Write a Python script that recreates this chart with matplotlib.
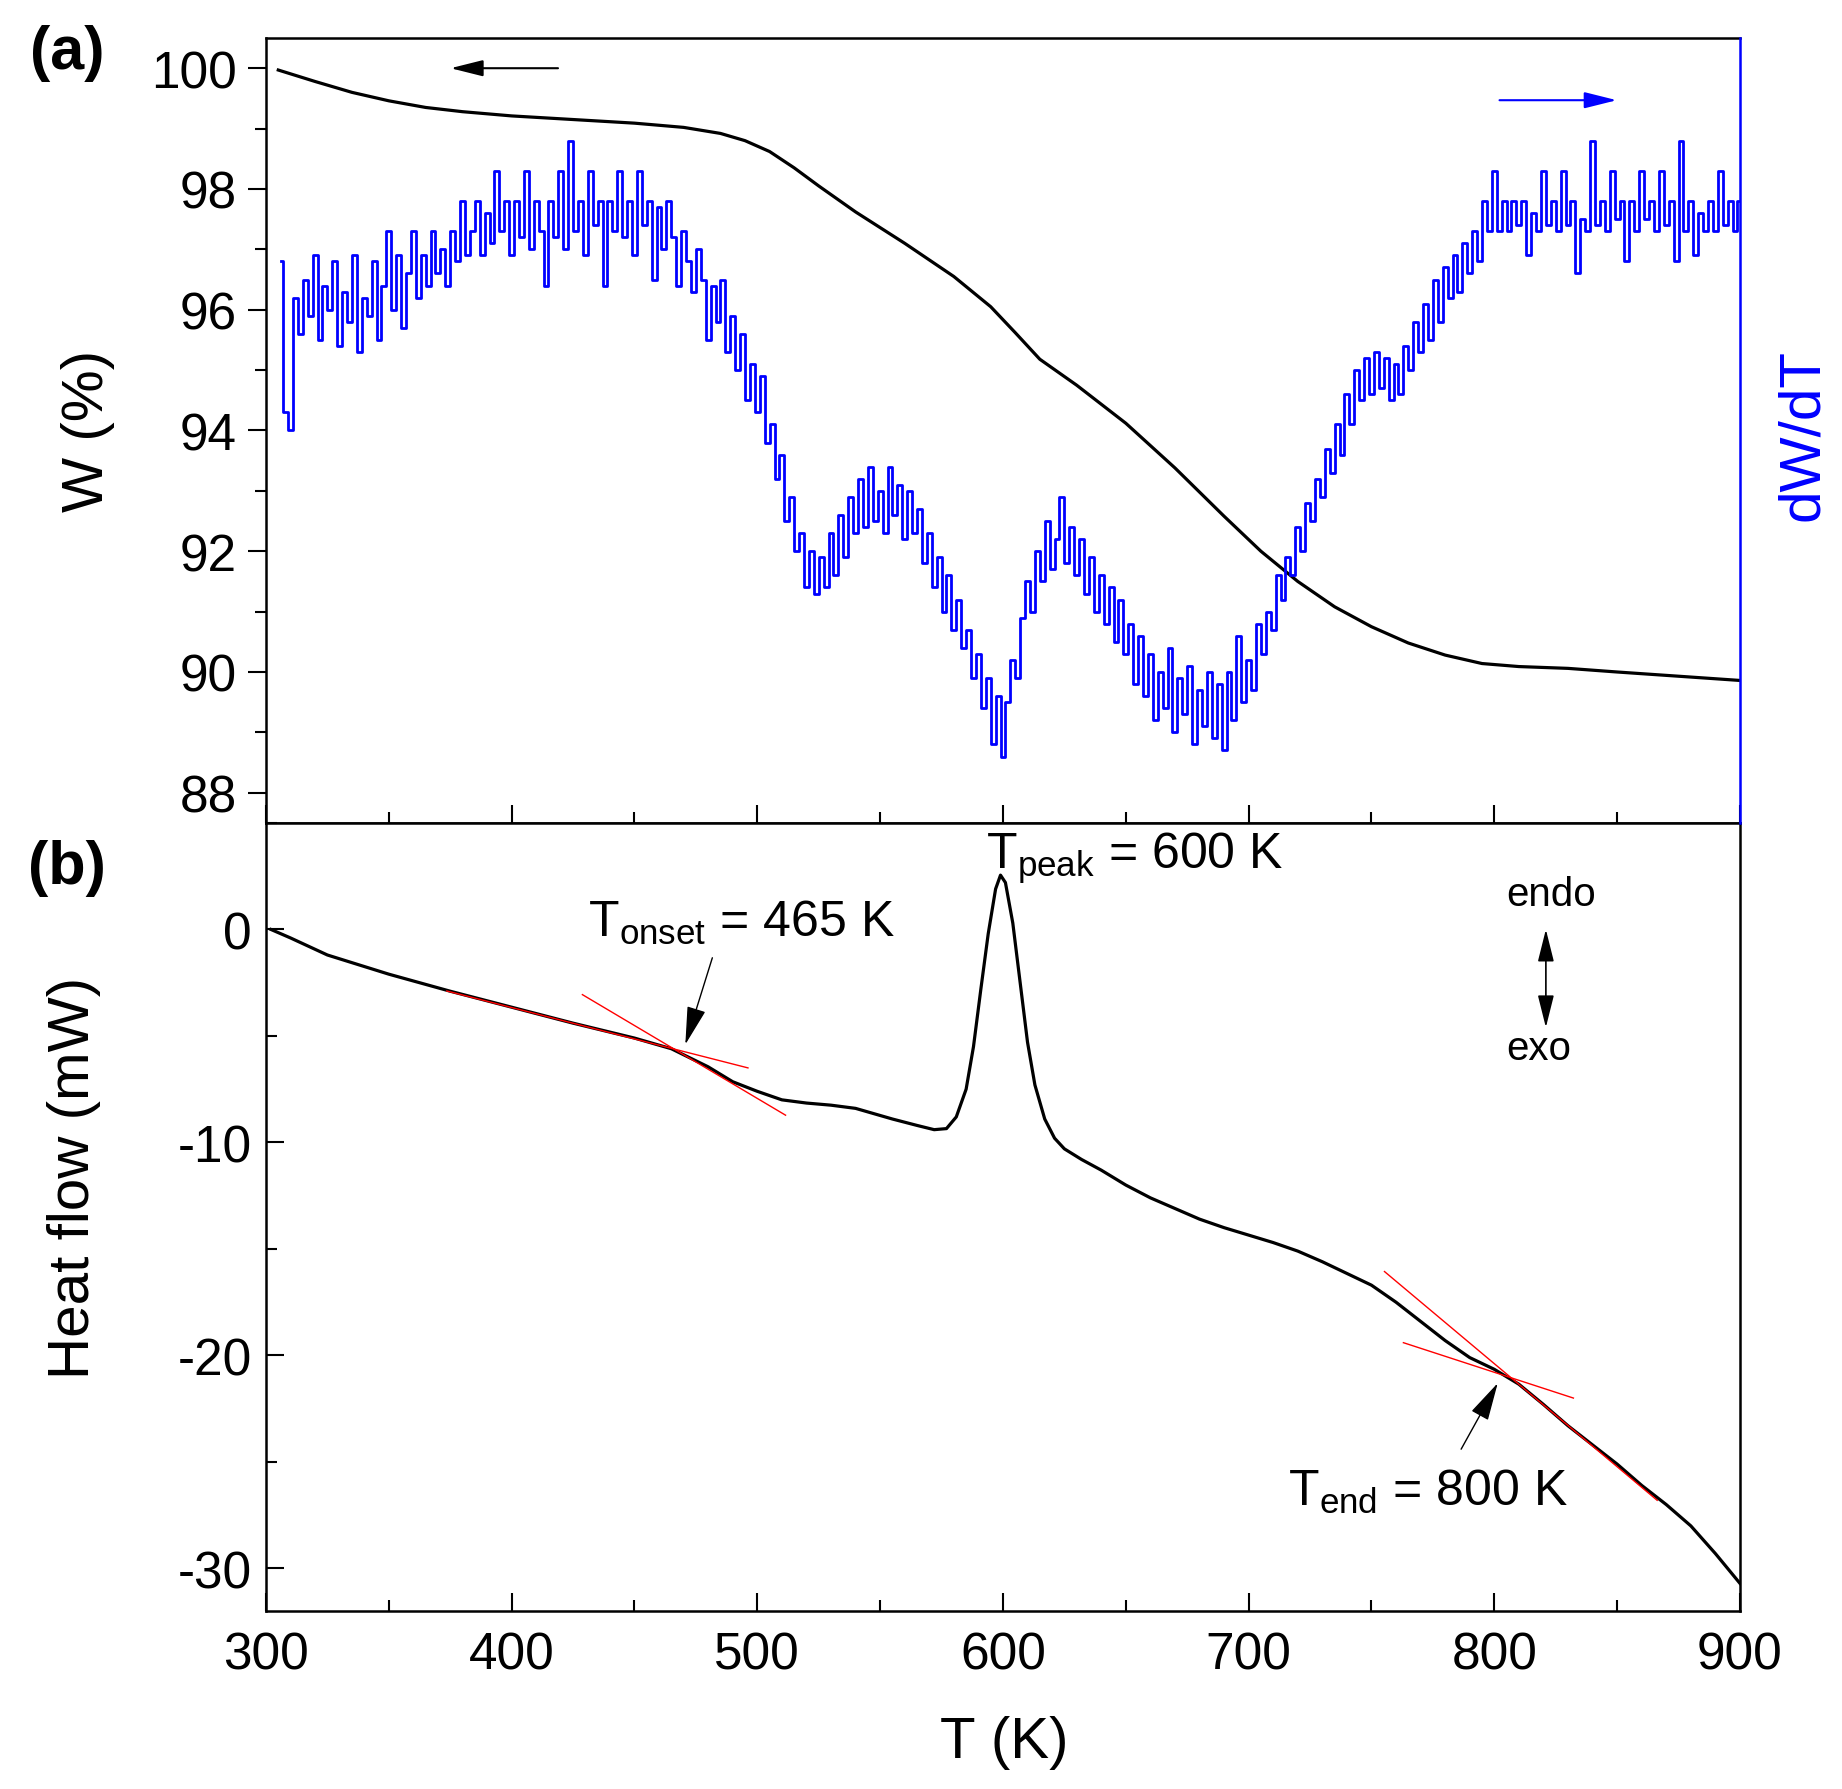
import numpy as np
import matplotlib
matplotlib.use('Agg')
import matplotlib.pyplot as plt
from matplotlib.ticker import MultipleLocator

plt.rcParams['font.family'] = ['Liberation Sans', 'DejaVu Sans']
plt.rcParams['mathtext.fontset'] = 'custom'
plt.rcParams['mathtext.rm'] = 'Liberation Sans'
plt.rcParams['mathtext.it'] = 'Liberation Sans:italic'
plt.rcParams['axes.unicode_minus'] = False

# (a) TG curve, weight in %
w_T = [305, 320, 335, 350, 365, 380, 400, 425, 450, 470, 485, 495, 505, 515,
       525, 540, 560, 580, 595, 605, 615, 630, 650, 670, 690, 705, 720, 735,
       750, 765, 780, 795, 810, 830, 850, 875, 900]
w = [99.97, 99.78, 99.60, 99.46, 99.35, 99.28, 99.21, 99.15, 99.09, 99.02,
     98.92, 98.80, 98.62, 98.35, 98.05, 97.62, 97.10, 96.55, 96.05, 95.62,
     95.18, 94.75, 94.12, 93.38, 92.58, 92.00, 91.50, 91.08, 90.75, 90.48,
     90.28, 90.14, 90.09, 90.06, 90.00, 89.93, 89.86]

# dW/dT, every 2 K from 306 K to 900 K
# (arbitrary units, the right axis has no scale, so kept on the W scale)
dwdt = [
    96.8, 94.3, 94.0, 96.2, 95.6, 96.5, 95.9, 96.9, 95.5, 96.4,
    96.0, 96.8, 95.4, 96.3, 95.8, 96.9, 95.3, 96.2, 95.9, 96.8,
    95.5, 96.4, 97.3, 96.0, 96.9, 95.7, 96.6, 97.3, 96.2, 96.9,
    96.4, 97.3, 96.6, 97.0, 96.4, 97.3, 96.8, 97.8, 96.9, 97.3,
    97.8, 96.9, 97.6, 97.1, 98.3, 97.3, 97.8, 96.9, 97.8, 97.2,
    98.3, 97.0, 97.8, 97.3, 96.4, 97.8, 97.2, 98.3, 97.0, 98.8,
    97.3, 97.8, 96.9, 98.3, 97.4, 97.8, 96.4, 97.8, 97.3, 98.3,
    97.2, 97.8, 96.9, 98.3, 97.4, 97.8, 96.5, 97.7, 97.0, 97.8,
    97.2, 96.4, 97.3, 96.8, 96.3, 97.0, 96.5, 95.5, 96.4, 95.8,
    96.5, 95.3, 95.9, 95.0, 95.6, 94.5, 95.1, 94.3, 94.9, 93.8,
    94.1, 93.2, 93.6, 92.5, 92.9, 92.0, 92.3, 91.4, 92.0, 91.3,
    91.9, 91.4, 92.3, 91.6, 92.6, 91.9, 92.9, 92.3, 93.2, 92.4,
    93.4, 92.5, 93.0, 92.3, 93.4, 92.6, 93.1, 92.2, 93.0, 92.3,
    92.7, 91.8, 92.3, 91.4, 91.9, 91.0, 91.6, 90.7, 91.2, 90.4,
    90.7, 89.9, 90.3, 89.4, 89.9, 88.8, 89.6, 88.6, 89.5, 90.2,
    89.9, 90.9, 91.5, 91.0, 92.0, 91.5, 92.5, 91.7, 92.2, 92.9,
    91.8, 92.4, 91.6, 92.2, 91.3, 91.9, 91.0, 91.6, 90.8, 91.4,
    90.5, 91.2, 90.3, 90.8, 89.8, 90.6, 89.6, 90.3, 89.2, 90.0,
    89.4, 90.4, 89.0, 89.9, 89.3, 90.1, 88.8, 89.7, 89.1, 90.0,
    88.9, 89.8, 88.7, 90.0, 89.2, 90.6, 89.5, 90.2, 89.7, 90.8,
    90.3, 91.0, 90.7, 91.6, 91.2, 91.9, 91.6, 92.4, 92.0, 92.8,
    92.5, 93.2, 92.9, 93.7, 93.3, 94.1, 93.6, 94.6, 94.1, 95.0,
    94.5, 95.2, 94.6, 95.3, 94.7, 95.2, 94.5, 95.1, 94.6, 95.4,
    95.0, 95.8, 95.3, 96.1, 95.5, 96.5, 95.8, 96.7, 96.2, 96.9,
    96.3, 97.1, 96.6, 97.3, 96.8, 97.8, 97.3, 98.3, 97.3, 97.8,
    97.3, 97.8, 97.4, 97.8, 96.9, 97.6, 97.3, 98.3, 97.4, 97.8,
    97.3, 98.3, 97.4, 97.8, 96.6, 97.5, 97.3, 98.8, 97.4, 97.8,
    97.3, 98.3, 97.5, 97.8, 96.8, 97.8, 97.3, 98.3, 97.5, 97.8,
    97.3, 98.3, 97.4, 97.8, 96.8, 98.8, 97.3, 97.8, 96.9, 97.6,
    97.3, 97.8, 97.3, 98.3, 97.4, 97.8, 97.3, 97.8,
]
dwdt_T = np.linspace(306, 900, len(dwdt))

# (b) DSC curve, heat flow in mW
hf_T = [302, 310, 325, 350, 375, 400, 425, 450, 465, 480, 490, 500, 510, 520,
        530, 540, 555, 565, 572, 577, 581, 585, 588, 591, 594, 597, 599, 601,
        604, 607, 610, 613, 617, 621, 625, 632, 640, 650, 660, 670, 680, 690,
        700, 710, 720, 730, 740, 750, 760, 770, 780, 790, 800, 810, 820, 830,
        840, 850, 860, 870, 880, 890, 900]
hf = [0.0, -0.4, -1.2, -2.1, -2.9, -3.65, -4.4, -5.1, -5.6, -6.45, -7.15,
      -7.6, -8.0, -8.15, -8.25, -8.4, -8.9, -9.2, -9.4, -9.35, -8.8, -7.5,
      -5.5, -2.8, -0.2, 1.9, 2.55, 2.2, 0.3, -2.5, -5.3, -7.3, -8.9, -9.8,
      -10.3, -10.8, -11.3, -12.0, -12.6, -13.1, -13.6, -14.0, -14.35, -14.7,
      -15.1, -15.6, -16.15, -16.7, -17.5, -18.4, -19.3, -20.1, -20.65, -21.35,
      -22.3, -23.3, -24.2, -25.1, -26.1, -27.0, -28.0, -29.3, -30.7]

# tangent lines (T, heat flow) end points
onset_lines = [([373.6, 496.2], [-2.89, -6.5]), ([428.8, 511.5], [-3.06, -8.72])]
end_lines = [([755.3, 866.3], [-16.06, -26.8]), ([763.0, 832.2], [-19.4, -22.0])]

fig = plt.figure(figsize=(18.42, 17.9), dpi=100)
ax1 = fig.add_axes([0.1444, 0.5397, 0.8002, 0.4385])
ax2 = fig.add_axes([0.1444, 0.0994, 0.8002, 0.4403])

lab = 42
tk = 37

# ---- top panel ----
ax1.plot(w_T, w, color='black', lw=2.3, zorder=3)
ax1.set_xlim(300, 900)
ax1.set_ylim(87.5, 100.5)
ax1.yaxis.set_major_locator(MultipleLocator(2))
ax1.yaxis.set_minor_locator(MultipleLocator(1))
ax1.xaxis.set_major_locator(MultipleLocator(100))
ax1.xaxis.set_minor_locator(MultipleLocator(50))
ax1.tick_params(axis='y', which='both', direction='out', labelsize=tk, width=1.5, pad=8)
ax1.tick_params(axis='y', which='major', length=13)
ax1.tick_params(axis='y', which='minor', length=8)
ax1.tick_params(axis='x', which='both', direction='in', labelbottom=False, width=1.5)
ax1.tick_params(axis='x', which='major', length=13)
ax1.tick_params(axis='x', which='minor', length=8)
ax1.spines['right'].set_visible(False)
for s in ['left', 'top', 'bottom']:
    ax1.spines[s].set_linewidth(1.8)
ax1.annotate('', xy=(374, 100.0), xytext=(420, 100.0),
             arrowprops=dict(arrowstyle='-|>,head_length=1.0,head_width=0.25',
                             color='black', lw=1.5, mutation_scale=20))

ax1t = ax1.twinx()
ax1t.plot(dwdt_T, dwdt, color='blue', lw=2.0, drawstyle='steps-mid')
ax1t.set_ylim(87.5, 100.5)
ax1t.set_xlim(300, 900)
ax1t.tick_params(right=False, labelright=False)
for s in ['left', 'top', 'bottom']:
    ax1t.spines[s].set_visible(False)
ax1t.spines['right'].set_color('blue')
ax1t.spines['right'].set_linewidth(1.8)
ax1t.annotate('', xy=(851, 99.47), xytext=(801, 99.47),
              arrowprops=dict(arrowstyle='-|>,head_length=1.0,head_width=0.25',
                              color='blue', lw=1.5, mutation_scale=20))

# ---- bottom panel ----
ax2.plot(hf_T, hf, color='black', lw=2.3, zorder=3)
for xs, ys in onset_lines + end_lines:
    ax2.plot(xs, ys, color='red', lw=1.0, zorder=4)
ax2.set_xlim(300, 900)
ax2.set_ylim(-32, 5)
ax2.xaxis.set_major_locator(MultipleLocator(100))
ax2.xaxis.set_minor_locator(MultipleLocator(50))
ax2.yaxis.set_major_locator(MultipleLocator(10))
ax2.yaxis.set_minor_locator(MultipleLocator(5))
ax2.tick_params(which='both', direction='in', labelsize=tk, width=1.5)
ax2.tick_params(which='major', length=13)
ax2.tick_params(which='minor', length=8)
ax2.tick_params(axis='x', pad=14)
ax2.tick_params(axis='y', pad=10)
for s in ax2.spines.values():
    s.set_linewidth(1.8)

ann = 36
ax2.text(593, 2.9, r'$\mathrm{T_{peak}}$ = 600 K', fontsize=ann, ha='left', va='baseline')
ax2.text(431, -0.3, r'$\mathrm{T_{onset}}$ = 465 K', fontsize=ann, ha='left', va='baseline')
ax2.text(716, -27.0, r'$\mathrm{T_{end}}$ = 800 K', fontsize=ann, ha='left', va='baseline')

head = dict(arrowstyle='-|>,head_length=1.2,head_width=0.3', color='black',
            lw=1.0, mutation_scale=20, shrinkA=0, shrinkB=0)
ax2.annotate('', xy=(470.7, -5.4), xytext=(481.7, -1.33), arrowprops=head)
ax2.annotate('', xy=(801.4, -21.3), xytext=(786.5, -24.4), arrowprops=head)

ax2.text(823, 1.67, 'endo', fontsize=29, ha='center', va='center')
ax2.text(818, -5.55, 'exo', fontsize=29, ha='center', va='center')
ax2.annotate('', xy=(821, 0.0), xytext=(821, -4.6),
             arrowprops=dict(arrowstyle='<|-|>,head_length=1.0,head_width=0.25',
                             color='black', lw=1.2, mutation_scale=20,
                             shrinkA=0, shrinkB=0))

# axis titles and panel letters
fig.text(0.048, 0.759, 'W (%)', fontsize=lab, rotation=90, ha='center', va='center')
fig.text(0.979, 0.757, 'dW/dT', fontsize=lab, rotation=90, ha='center', va='center',
         color='blue')
fig.text(0.040, 0.342, 'Heat flow (mW)', fontsize=lab, rotation=90, ha='center', va='center')
fig.text(0.545, 0.026, 'T (K)', fontsize=lab, ha='center', va='center')
fig.text(0.0365, 0.970, '(a)', fontsize=44, fontweight='bold', ha='center', va='center')
fig.text(0.0365, 0.515, '(b)', fontsize=44, fontweight='bold', ha='center', va='center')

fig.savefig('out.png', dpi=100)
